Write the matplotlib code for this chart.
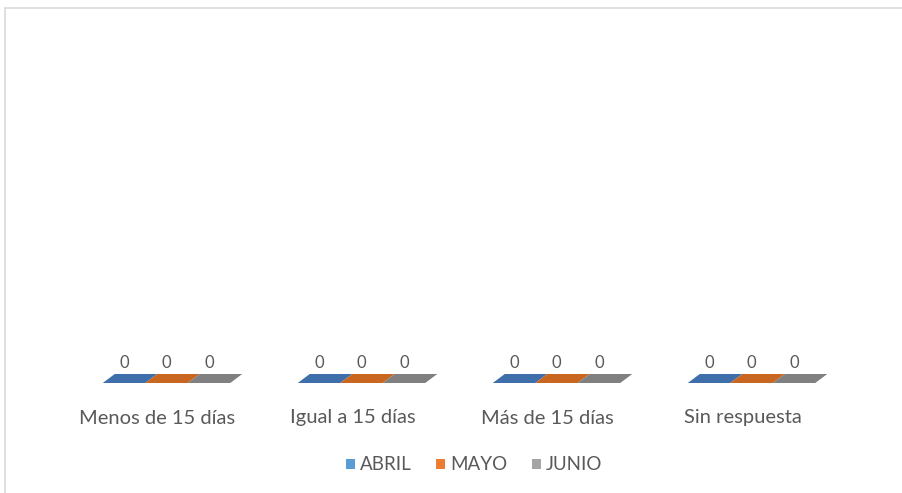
import matplotlib
matplotlib.use("Agg")
import matplotlib.pyplot as plt
from matplotlib.patches import Polygon, Rectangle
import numpy as np

categories = ["Menos de 15 días", "Igual a 15 días", "Más de 15 días", "Sin respuesta"]
series = ["ABRIL", "MAYO", "JUNIO"]
abril = [0, 0, 0, 0]
mayo = [0, 0, 0, 0]
junio = [0, 0, 0, 0]
values = [abril, mayo, junio]

face_colors = ["#3E6FAA", "#C9661F", "#808080"]
legend_colors = ["#5B9BD5", "#ED7D31", "#A5A5A5"]
text_color = "#595959"
plt.rcParams['font.family'] = ['Lato', 'DejaVu Sans']

W, H = 903, 493
fig = plt.figure(figsize=(W / 100, H / 100), dpi=100)
fig.patch.set_facecolor("white")
# outer chart frame
fig.patches.append(Rectangle((5 / W, -0.1), 1.2, 1.1 - 8 / H, transform=fig.transFigure,
                             fill=False, edgecolor="#D9D9D9", linewidth=1.2))

ax_left, ax_right = 60, 840
ax_top, ax_bot = 20, 384
ax = fig.add_axes([ax_left / W, 1 - ax_bot / H, (ax_right - ax_left) / W, (ax_bot - ax_top) / H])
ax.set_xlim(-0.5, len(categories) - 0.5)
ax.set_ylim(-1, ax_bot - ax_top - 1)  # 1 unit = 1 px
ax.axis("off")

px_x = (len(categories)) / (ax_right - ax_left)  # data units per px in x
bw = 42.5 * px_x
shift = 9 * px_x
dx, dy = 12 * px_x, 9  # depth offsets

x = np.arange(len(categories))
for k, (vals, col) in enumerate(zip(values, face_colors)):
    xs = x + shift + (k - 1) * bw
    ax.bar(xs, vals, width=bw, color=col, linewidth=0)
    for xi, v in zip(xs, vals):
        l, r = xi - bw / 2, xi + bw / 2
        poly = Polygon([(l, v), (r, v), (r + dx, v + dy), (l + dx, v + dy)],
                       closed=True, facecolor=col, edgecolor="none")
        ax.add_patch(poly)
        ax.text(xi, v + dy + 3, f"{v:g}", ha="center", va="bottom",
                fontsize=12, color=text_color)

for xi, c in zip(x, categories):
    ax.text(xi, -35, c, ha="center", va="center", fontsize=14.5, color=text_color)

handles = [Rectangle((0, 0), 1, 1, facecolor=c, edgecolor="none") for c in legend_colors]
fig.legend(handles, series, loc="center", bbox_to_anchor=(474 / W, 1 - 465 / H), ncol=3,
           frameon=False, fontsize=13.5, labelcolor=text_color, handlelength=0.5,
           handleheight=0.5, handletextpad=0.25, columnspacing=1.3)

fig.savefig("out.png", dpi=100, facecolor="white")
